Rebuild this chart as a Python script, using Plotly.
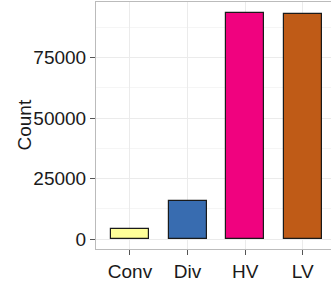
import plotly.graph_objects as go

categories = ["Conv", "Div", "HV", "LV"]
counts = [4100, 15600, 93400, 92900]
colors = ["#FFFF99", "#386CB0", "#F0027F", "#BF5B17"]
y_ticks = [0, 25000, 50000, 75000]

fig = go.Figure()
fig.add_trace(go.Bar(
    x=categories, y=counts, width=0.66,
    marker=dict(color=colors, line=dict(color="#1a1a1a", width=1.2)),
))

font = dict(family="Liberation Sans, Arial, sans-serif", size=19, color="#1a1a1a")
fig.update_layout(
    width=331, height=285,
    margin=dict(l=96, r=0, t=2, b=36),
    paper_bgcolor="white", plot_bgcolor="white",
    showlegend=False, font=font,
    bargap=0,
)
fig.update_xaxes(
    range=[-0.59, 3.49], showgrid=True, gridcolor="#ebebeb", gridwidth=1,
    ticks="outside", ticklen=5, tickcolor="#555", tickfont=font,
    showline=True, linecolor="#bbbbbb", mirror=True, zeroline=False,
)
fig.update_yaxes(
    range=[-4130, 97930], tickvals=y_ticks, ticktext=[str(v) for v in y_ticks],
    showgrid=True, gridcolor="#ebebeb", gridwidth=1,
    minor=dict(dtick=12500, showgrid=True, gridcolor="#f5f5f5", gridwidth=0.6),
    ticks="outside", ticklen=5, tickcolor="#555", tickfont=font,
    showline=True, linecolor="#bbbbbb", mirror=False, zeroline=False,
)
fig.add_annotation(
    text="Count", textangle=-90, xref="paper", yref="paper",
    x=(24 - 96) / 235, y=0.50, xanchor="center", yanchor="middle",
    showarrow=False, font=font,
)
fig.write_html(
    "out.html",
    config={"displayModeBar": False},
    post_script="document.body.style.margin='0';document.body.style.overflow='hidden';",
)
